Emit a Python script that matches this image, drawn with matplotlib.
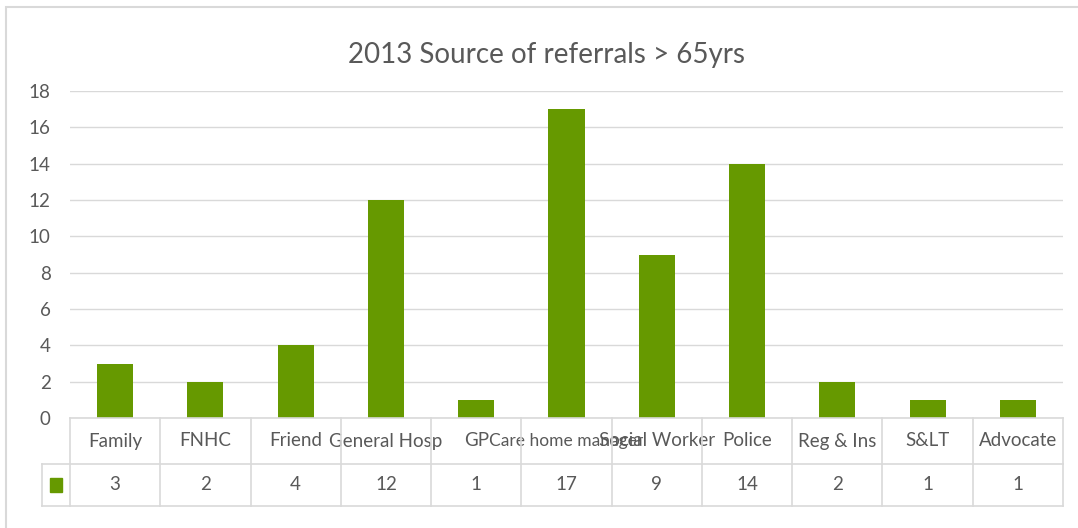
import matplotlib.pyplot as plt
from matplotlib.patches import Rectangle
from matplotlib.lines import Line2D

categories = ['Family', 'FNHC', 'Friend', 'General Hosp', 'GP', 'Care home manager',
              'Social Worker', 'Police', 'Reg & Ins', 'S&LT', 'Advocate']
values = [3, 2, 4, 12, 1, 17, 9, 14, 2, 1, 1]
yticks = [0, 2, 4, 6, 8, 10, 12, 14, 16, 18]

green = '#669900'
grey_txt = '#595959'
grey_line = '#d9d9d9'

plt.rcParams['font.family'] = ['Lato', 'DejaVu Sans']

fig = plt.figure(figsize=(10.78, 5.28), dpi=100)
# outer chart border
fig.patches.append(Rectangle((6 / 1078, -0.1), 1.2, 1 - 7 / 528 + 0.1,
                             transform=fig.transFigure, fill=False,
                             edgecolor=grey_line, linewidth=1.5))

ax = fig.add_axes([70 / 1078, 1 - 418 / 528, 993 / 1078, 327 / 528])
x = list(range(len(categories)))
ax.bar(x, values, width=0.4, color=green, zorder=3)
ax.set_xlim(-0.5, len(categories) - 0.5)
ax.set_ylim(0, 18)
ax.set_yticks(yticks)
ax.set_yticklabels([str(v) for v in yticks], color=grey_txt, fontsize=13.5)
ax.tick_params(axis='y', length=0, pad=14)
ax.set_xticks([])
ax.grid(axis='y', color=grey_line, linewidth=1, zorder=0)
for s in ax.spines.values():
    s.set_visible(False)

fig.text(547 / 1078, 1 - 55 / 528, '2013 Source of referrals > 65yrs',
         ha='center', va='center', fontsize=20, color=grey_txt)

# data table under the axis
tr = ax.get_xaxis_transform()
row1 = -46 / 327
row2 = -88 / 327
left = -0.5 - 28 / 90.3
n = len(categories)
lines = [
    ([-0.5, n - 0.5], [0, 0]),
    ([left, n - 0.5], [row1, row1]),
    ([left, n - 0.5], [row2, row2]),
    ([left, left], [row1, row2]),
]
for i in range(n + 1):
    lines.append(([i - 0.5, i - 0.5], [0, row2]))
for xs, ys in lines:
    ax.add_line(Line2D(xs, ys, transform=tr, color=grey_line, linewidth=1.2,
                       clip_on=False, zorder=4))

for i, (c, v) in enumerate(zip(categories, values)):
    fs = 12.5 if len(c) > 14 else 13.5  # long label spills over like the original
    ax.text(i, row1 / 2, c, transform=tr, ha='center', va='center',
            fontsize=fs, color=grey_txt, clip_on=False)
    ax.text(i, (row1 + row2) / 2, str(v), transform=tr, ha='center', va='center',
            fontsize=13.5, color=grey_txt, clip_on=False)

ax.add_patch(Rectangle(((left - 0.5) / 2 - 0.065, (row1 + row2) / 2 - 0.021), 0.13, 0.042,
                       transform=tr, color=green, clip_on=False))

fig.savefig('out.png', dpi=100)
